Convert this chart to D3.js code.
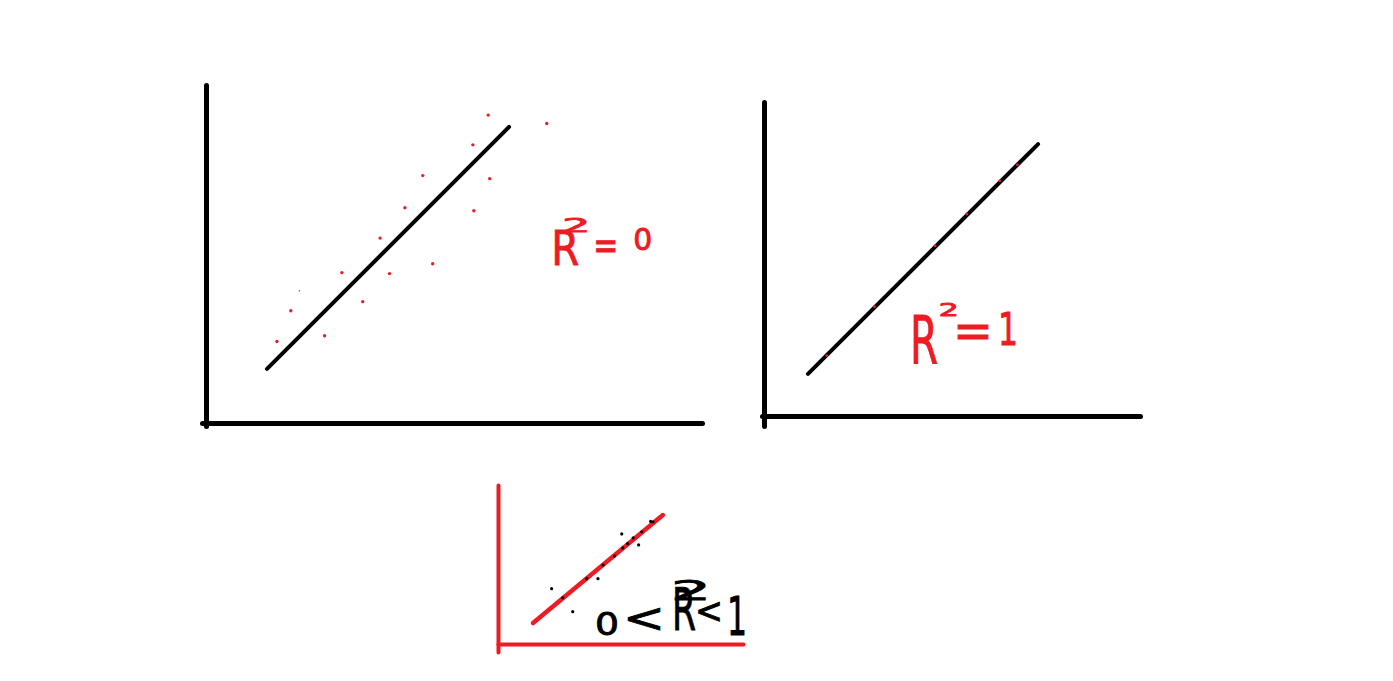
<!DOCTYPE html>
<html><head><meta charset="utf-8">
<script src="https://cdn.jsdelivr.net/npm/d3@7"></script>
<style>html,body{margin:0;padding:0;background:#fff;overflow:hidden}</style>
</head><body>
<script>
const RED = "#ed1c24";
const BLACK = "#000";

// ---- Panel 1: scattered points (R² = 0) ----
const p1Points = [[56.9,91.1],[68.7,88.6],[53.8,82.3],[43.7,73.2],[57.2,72.3],[40.1,63.7],[54.0,62.8],
  [35.1,54.7],[45.7,47.1],[27.4,44.5],[37.0,44.2],[31.6,35.9],[17.1,33.2],[23.9,25.8],[14.3,24.1]];
const p1Speck = [[18.8,39.1]];
const p1Fit = [[12.3,16.0],[61.1,87.6]];
const p1Label = ["R","2","=","0"];
const p1LabelAt = [69.6,46.7];

// ---- Panel 2: points on the line (R² = 1) ----
const p2Points = [[16.7,19.2],[29.4,34.8],[45.5,54.2],[53.9,64.4],[62.7,74.9],[67.4,80.0]];
const p2Fit = [[11.7,13.4],[72.9,86.6]];
const p2Label = ["R","2","=","1"];
const p2LabelAt = [38.8,16.9];

// ---- Panel 3: points near the line (0 < R² < 1) ----
const p3Points = [[63.3,76.9],[62.3,77.1],[58.7,70.6],[50.5,69.2],[55.2,66.7],[52.9,63.1],[57.4,62.3],[50.9,60.4],
  [47.6,55.3],[42.9,49.7],[36.2,41.1],[40.8,41.1],[21.9,34.8],[26.4,29.1],[30.5,20.3]];
const p3Fit = [[14.3,13.2],[67.3,81.1]];
const p3Label = ["0","<","R","2","<","1"];
const p3LabelAt = [39.6,5.7];

const svg = d3.select("body").append("svg").attr("width",1393).attr("height",681);
const FONT = "DejaVu Sans";

function panel(opts){
  const g = svg.append("g");
  const x = d3.scaleLinear([0,100], opts.xr);
  const y = d3.scaleLinear([0,100], opts.yr);
  const yExt = d3.scaleLinear([y.invert(opts.yBottom),100],[opts.yBottom,opts.yr[1]]);
  const xExt = d3.scaleLinear([x.invert(opts.xLeft),100],[opts.xLeft,opts.xr[1]]);
  const ay = g.append("g").attr("transform",`translate(${x(0)},0)`)
    .call(d3.axisLeft(yExt).tickValues([]).tickSizeOuter(0));
  const ax = g.append("g").attr("transform",`translate(0,${y(0)})`)
    .call(d3.axisBottom(xExt).tickValues([]).tickSizeOuter(0));
  [ay,ax].forEach(a=>a.select(".domain").attr("stroke",opts.axisColor)
      .attr("stroke-width",opts.axisW).attr("stroke-linecap","round"));
  g.append("path").datum(opts.fit)
    .attr("d", d3.line().x(d=>x(d[0])).y(d=>y(d[1])))
    .attr("stroke",opts.lineColor).attr("stroke-width",opts.lineW)
    .attr("stroke-linecap","round").attr("fill","none");
  g.selectAll("circle.pt").data(opts.points).join("circle").attr("class","pt")
    .attr("cx",d=>x(d[0])).attr("cy",d=>y(d[1])).attr("r",opts.r).attr("fill",opts.dotColor);
  return {g,x,y};
}

// one text element per label; each glyph is a tspan [dx, dy, size, width]
function label(g, x, y, at, chars, layout, color){
  const ox = x(at[0]), oy = y(at[1]);
  const t = g.append("text").attr("font-family",FONT).attr("fill",color)
    .attr("stroke",color).attr("stroke-width",0.9);
  chars.forEach((c,i)=>{
    const L = layout[i];
    t.append("tspan").text(c).attr("x",ox+L[0]).attr("y",oy+L[1]).attr("font-size",L[2])
      .attr("textLength",L[3]).attr("lengthAdjust","spacingAndGlyphs");
  });
}

const P1 = panel({xr:[206,702], yr:[423,85], yBottom:426, xLeft:202, axisColor:BLACK, axisW:5,
  fit:p1Fit, lineColor:BLACK, lineW:4, points:p1Points, r:1.7, dotColor:RED});
P1.g.selectAll("circle.sp").data(p1Speck).join("circle").attr("class","sp")
  .attr("cx",d=>P1.x(d[0])).attr("cy",d=>P1.y(d[1])).attr("r",0.6).attr("fill",BLACK);
label(P1.g, P1.x, P1.y, p1LabelAt, p1Label,
  [[0,0,48,28],[11,-33,20,28],[42,-6,40,25],[82,-15,30,19]], RED);

const P2 = panel({xr:[764,1140], yr:[416,102], yBottom:426, xLeft:762, axisColor:BLACK, axisW:5,
  fit:p2Fit, lineColor:BLACK, lineW:4, points:p2Points, r:1.4, dotColor:RED});
label(P2.g, P2.x, P2.y, p2LabelAt, p2Label,
  [[0,0,66,28],[29,-47,18,20],[43,-16,48,40],[88,-18,44,20]], RED);

const P3 = panel({xr:[498,743], yr:[644,485], yBottom:652, xLeft:498, axisColor:RED, axisW:4,
  fit:p3Fit, lineColor:RED, lineW:4.5, points:p3Points, r:1.6, dotColor:BLACK});
label(P3.g, P3.x, P3.y, p3LabelAt, p3Label,
  [[0,0,32,24],[28,-3,40,42],[77,-5,58,24],[76,-35,27,40],[100,-12,36,28],[132,0,54,20]], BLACK);
</script>
</body></html>
